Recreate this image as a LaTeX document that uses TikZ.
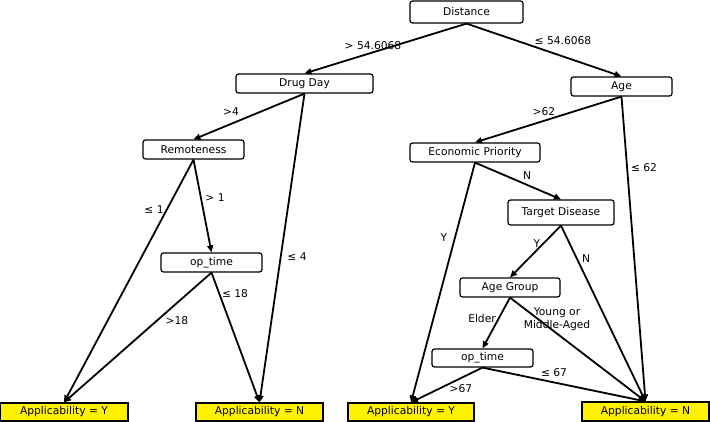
\documentclass[tikz,border=0pt]{standalone}
\usepackage{fontspec}
\setmainfont{DejaVu Sans}
\usetikzlibrary{arrows.meta}
\tikzset{
  inner/.style={draw, fill=white, rounded corners=2.5pt, line width=1.2pt, inner sep=0pt, font=\fontsize{10.7}{12.5}\selectfont},
  leaf/.style={draw, fill=yellow, line width=1.2pt, inner sep=0pt, font=\fontsize{10.7}{12.5}\selectfont},
  lbl/.style={inner sep=0pt, font=\fontsize{10.7}{12.5}\selectfont, align=center},
  edge/.style={line width=1.8pt, -{Triangle[length=7pt,width=6pt]}},
}
\begin{document}
\begin{tikzpicture}[x=1pt,y=-1pt]
\useasboundingbox (0,0) rectangle (710,422);
% decision nodes
\node[inner, minimum width=113pt, minimum height=22pt] (dist) at (466.5,12) {Distance};
\node[inner, minimum width=137pt, minimum height=19pt] (drug) at (304.5,83.5) {Drug Day};
\node[inner, minimum width=101pt, minimum height=19pt] (age) at (621.5,86.5) {Age};
\node[inner, minimum width=101pt, minimum height=19pt] (rem) at (193.5,149.5) {Remoteness};
\node[inner, minimum width=130pt, minimum height=19pt] (econ) at (475,152.5) {Economic Priority};
\node[inner, minimum width=106pt, minimum height=25pt] (targ) at (561,212.5) {Target Disease};
\node[inner, minimum width=101pt, minimum height=19pt] (opl) at (211.5,262.5) {op\_time};
\node[inner, minimum width=100pt, minimum height=19pt] (agrp) at (510,287.5) {Age Group};
\node[inner, minimum width=101pt, minimum height=18pt] (opr) at (482.5,358) {op\_time};
% leaves
\node[leaf, minimum width=128pt, minimum height=18pt] (ly) at (64,412) {Applicability = Y};
\node[leaf, minimum width=127pt, minimum height=18pt] (ln) at (259.5,412) {Applicability = N};
\node[leaf, minimum width=126pt, minimum height=18pt] (ry) at (411,412) {Applicability = Y};
\node[leaf, minimum width=127pt, minimum height=19pt] (rn) at (645.5,411.5) {Applicability = N};
% edges
\draw[edge] (dist.south) -- (drug.north);
\draw[edge] (dist.south) -- (age.north);
\draw[edge] (drug.south) -- (rem.north);
\draw[edge] (drug.south) -- (ln.north);
\draw[edge] (rem.south) -- (ly.north);
\draw[edge] (rem.south) -- (opl.north);
\draw[edge] (opl.south) -- (ly.north);
\draw[edge] (opl.south) -- (ln.north);
\draw[edge] (age.south) -- (econ.north);
\draw[edge] (age.south) -- (rn.north);
\draw[edge] (econ.south) -- (ry.north);
\draw[edge] (econ.south) -- (targ.north);
\draw[edge] (targ.south) -- (agrp.north);
\draw[edge] (targ.south) -- (rn.north);
\draw[edge] (agrp.south) -- (opr.north);
\draw[edge] (agrp.south) -- (rn.north);
\draw[edge] (opr.south) -- (ry.north);
\draw[edge] (opr.south) -- (rn.north);
% labels
\node[lbl] (l1) at (373,46) {> 54.6068};
\node[lbl] (l2) at (563,41) {≤ 54.6068};
\node[lbl] (l3) at (231,112) {>4};
\node[lbl] (l4) at (215,198) {> 1};
\node[lbl] (l5) at (154,210) {≤ 1};
\node[lbl] (l6) at (297,257) {≤ 4};
\node[lbl] (l7) at (235,294) {≤ 18};
\node[lbl] (l8) at (177,321) {>18};
\node[lbl] (l9) at (544,112) {>62};
\node[lbl] (l10) at (644,168) {≤ 62};
\node[lbl] (l11) at (527,176) {N};
\node[lbl] (l12) at (444,238) {Y};
\node[lbl] (l13) at (537,244) {Y};
\node[lbl] (l14) at (586,259) {N};
\node[lbl] (l15) at (482,319) {Elder};
\node[lbl] (l16) at (557,319) {Young or\\Middle-Aged};
\node[lbl] (l17) at (554,373) {≤ 67};
\node[lbl] (l18) at (461,389) {>67};
\end{tikzpicture}
\end{document}
